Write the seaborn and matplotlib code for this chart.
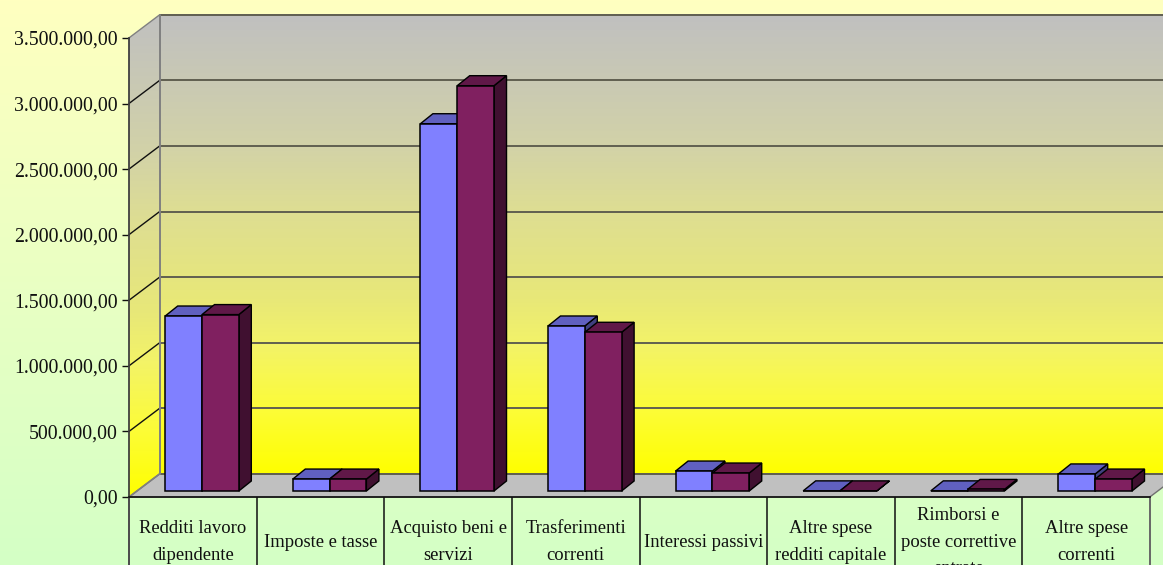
import numpy as np
import pandas as pd
import matplotlib
matplotlib.use("Agg")
import matplotlib.pyplot as plt
from matplotlib.colors import LinearSegmentedColormap
from matplotlib.patches import Polygon
from matplotlib.ticker import FuncFormatter
import seaborn as sns

categories = ["Redditi lavoro\ndipendente", "Imposte e tasse", "Acquisto beni e\nservizi",
              "Trasferimenti\ncorrenti", "Interessi passivi", "Altre spese\nredditi capitale",
              "Rimborsi e\nposte correttive\nentrate", "Altre spese\ncorrenti"]
series_names = ["Serie A", "Serie B"]
series_a = [1334000, 91000, 2800000, 1258000, 152000, 1000, 1000, 130000]
series_b = [1345000, 91000, 3090000, 1210000, 137000, 1000, 12000, 91000]
value_ticks = [0, 500000, 1000000, 1500000, 2000000, 2500000, 3000000, 3500000]

W, H = 1163, 565
PX_PER_CAT = 127.6
PX_PER_VAL = 131.17 / 1e6
ORIGIN_X, ORIGIN_Y = 202.0, 491.0  # first cluster centre and bar base, in pixels


def dx(px):
    return px / PX_PER_CAT


def dy(px):
    return px / PX_PER_VAL


sns.set_theme(style="white")
plt.rcParams["font.family"] = ["Liberation Serif", "DejaVu Serif"]
FS_VALUE = 14.3
FS_CAT = 13.4
TEXT = "#101010"

fig = plt.figure(figsize=(W / 100, H / 100), dpi=100)
ax = fig.add_axes([0, 0, 1, 1])
ax.set_xlim(dx(-ORIGIN_X), dx(W - ORIGIN_X))
ax.set_ylim(dy(ORIGIN_Y - H), dy(ORIGIN_Y))

xl, yl = ax.get_xlim(), ax.get_ylim()
page = LinearSegmentedColormap.from_list("page", ["#FFFFC0", "#D4FFC6"])
wall = LinearSegmentedColormap.from_list("wall", [
    (0.0, "#C0C0C0"), (0.285, "#D2D2A8"), (0.43, "#DEDE92"), (0.62, "#E8E878"),
    (0.72, "#F3F368"), (0.86, "#FCFC38"), (1.0, "#FFFF00")])
ramp = np.linspace(0, 1, 256).reshape(-1, 1)
ax.imshow(ramp, cmap=page, extent=(*xl, *yl), origin="upper", aspect="auto", zorder=0)

# Offsets of the floor's front and back edges relative to the bar plane
front_x, front_y = dx(129 - ORIGIN_X), dy(-6)
back_x, back_y = dx(159.5 - ORIGIN_X), dy(17)
top_val = value_ticks[-1]
right_front = front_x + 8

# Back wall and side wall carry the same vertical ramp
back = ax.imshow(ramp, cmap=wall, extent=(back_x, xl[1], back_y, back_y + top_val),
                 origin="upper", aspect="auto", zorder=1)
side = ax.imshow(ramp, cmap=wall, extent=(front_x, back_x, front_y, back_y + top_val),
                 origin="upper", aspect="auto", zorder=1)
side_clip = Polygon([(front_x, front_y), (back_x, back_y), (back_x, back_y + top_val),
                     (front_x, front_y + top_val)], closed=True, transform=ax.transData)
side.set_clip_path(side_clip)

# Floor
ax.add_patch(Polygon([(front_x, front_y), (back_x, back_y), (right_front + (back_x - front_x), back_y),
                      (right_front, front_y)], closed=True, facecolor="#C0C0C0",
                     edgecolor="#707070", linewidth=1.0, zorder=1.5))

# Gridlines across both walls
for v in value_ticks:
    ax.plot([back_x, xl[1]], [back_y + v, back_y + v], color="#605F50", lw=1.4, zorder=2)
    if v > 0:
        color = "#808080" if v == top_val else "#101010"
        ax.plot([front_x, back_x], [front_y + v, back_y + v], color=color, lw=1.0, zorder=2)
ax.plot([back_x, back_x], [back_y, back_y + top_val], color="#808080", lw=1.4, zorder=2.1)
ax.plot([front_x, back_x], [front_y, back_y], color="#808080", lw=1.2, zorder=2.1)

# Front faces of the bars
df = pd.DataFrame({
    "categoria": categories * 2,
    "serie": [series_names[0]] * len(categories) + [series_names[1]] * len(categories),
    "valore": series_a + series_b,
})
palette = {series_names[0]: "#8080FF", series_names[1]: "#802060"}
tops = {series_names[0]: "#6060C0", series_names[1]: "#601848"}
sides = {series_names[0]: "#404080", series_names[1]: "#401030"}
xlim_keep, ylim_keep = ax.get_xlim(), ax.get_ylim()
sns.barplot(data=df, x="categoria", y="valore", hue="serie", order=categories,
            hue_order=series_names, palette=palette, saturation=1, width=0.577,
            gap=0, dodge=True, edgecolor="#000000", linewidth=1.1, legend=False, ax=ax)
ax.set_xlim(xlim_keep)
ax.set_ylim(ylim_keep)

# Extrude every bar with a side face and a top face
depth_x, depth_y = dx(12.5), dy(10)
for k, name in enumerate(series_names):
    container = ax.containers[k]
    base_z = 3 + 2 * k
    for patch in container:
        x0, w, h = patch.get_x(), patch.get_width(), patch.get_height()
        x1 = x0 + w
        patch.set_zorder(base_z + 1)
        ax.add_patch(Polygon([(x1, 0), (x1 + depth_x, depth_y), (x1 + depth_x, h + depth_y), (x1, h)],
                             closed=True, facecolor=sides[name], edgecolor="#000000",
                             linewidth=1.0, zorder=base_z))
        ax.add_patch(Polygon([(x0, h), (x0 + depth_x, h + depth_y), (x1 + depth_x, h + depth_y), (x1, h)],
                             closed=True, facecolor=tops[name], edgecolor="#000000",
                             linewidth=1.0, zorder=base_z))
ax.grid(False)
ax.set_xlabel("")
ax.set_ylabel("")
ax.tick_params(left=False, bottom=False, labelleft=False, labelbottom=False)
for s in ax.spines.values():
    s.set_visible(False)

# Value axis along the front-left edge of the side wall
ax_left, ax_bottom = 129 / W, (H - 497) / H
val_ax = fig.add_axes([ax_left, ax_bottom, 1 / W, (497 - 38) / H], facecolor="none")
val_ax.set_ylim(0, top_val)
val_ax.set_xticks([])
val_ax.set_yticks(value_ticks)
val_ax.yaxis.set_major_formatter(FuncFormatter(
    lambda v, _: f"{v:,.2f}".replace(",", "#").replace(".", ",").replace("#", ".")))
val_ax.tick_params(axis="y", left=True, length=5, width=1.0, color="#101010", pad=3,
                   labelsize=FS_VALUE, labelcolor=TEXT)
for side_name, spine in val_ax.spines.items():
    spine.set_visible(side_name == "left")
val_ax.spines["left"].set_color("#404040")
val_ax.spines["left"].set_linewidth(1.3)

# Category axis running along the front of the floor, with labels between its ticks
cat_ax = fig.add_axes([ax_left, 0, (1150 - 129) / W, (H - 497) / H], facecolor="none")
cat_ax.set_xlim(0, len(categories))
cat_ax.set_ylim(0, 1)
cat_ax.set_yticks([])
cat_ax.set_xticks(np.arange(len(categories) + 1))
cat_ax.set_xticklabels([])
cat_ax.set_xticks(np.arange(len(categories)) + 0.5, labels=categories, minor=True)
cat_ax.xaxis.tick_top()
cat_ax.tick_params(axis="x", which="major", direction="in", length=H - 497, width=1.1, color="#101010",
                   labeltop=False)
cat_ax.tick_params(axis="x", which="minor", length=0, labelsize=FS_CAT, labelcolor=TEXT,
                   top=False, bottom=True, labelbottom=True, labeltop=False, pad=-16.5)
for lab in cat_ax.get_xticklabels(minor=True):
    lab.set_va("center")
    lab.set_ha("center")
    lab.set_linespacing(1.72)
for side_name, spine in cat_ax.spines.items():
    spine.set_visible(side_name in ("top", "left", "right"))
cat_ax.spines["top"].set_color("#101010")
cat_ax.spines["top"].set_linewidth(1.2)
cat_ax.spines["left"].set_color("#505050")
cat_ax.spines["right"].set_color("#707070")

fig.savefig("out.png", dpi=100)
